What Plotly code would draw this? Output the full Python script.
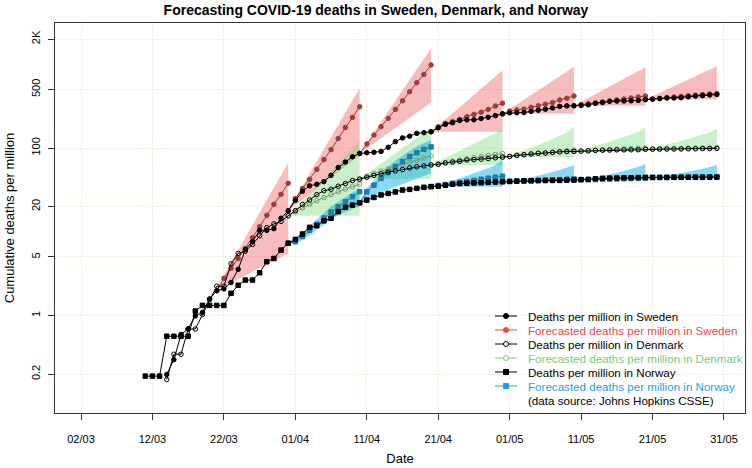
import pandas as pd
import plotly.graph_objects as go

# observed cumulative deaths per million (Johns Hopkins CSSE)
sweden_start = "2020-03-14"
sweden = [0.198, 0.297, 0.594, 0.693, 0.99, 1.09, 1.58, 1.98, 2.08, 2.48,
          3.56, 6.14, 7.62, 10.4, 10.4, 10.9, 14.5, 17.8,
          23.7, 30.5, 35.4, 36.9, 39.7, 47.2, 58.5, 68.0, 78.5, 86.1,
          87.8, 89.0, 91.0, 102.3, 119.1, 132.0, 138.6, 149.6, 152.5, 156.4,
          174.8, 191.8, 200.1, 213.1, 217.0, 217.2, 225.1, 233.2, 243.8, 256.0,
          262.7, 264.3, 265.2, 274.2, 282.6, 291.2, 301.0, 314.4, 318.8, 319.3,
          322.4, 328.0, 342.6, 349.4, 361.0, 363.8, 364.3, 366.1, 370.6, 379.3,
          383.3, 388.6, 395.2, 395.8, 398.9, 408.4, 417.8, 422.4, 430.7, 435.1]

denmark_start = "2020-03-14"
denmark = [0.172, 0.345, 0.345, 0.69, 0.69, 1.03, 1.55, 2.24, 2.24, 4.14,
           5.52, 5.86, 7.07, 8.97, 11.2, 12.4, 13.3, 15.5,
           17.9, 21.2, 24.0, 27.8, 30.9, 32.2, 35.0, 37.6, 40.9, 42.6,
           44.8, 47.1, 49.1, 51.6, 53.3, 55.3, 57.9, 59.7, 61.2, 62.8,
           63.8, 66.2, 67.9, 69.5, 72.1, 72.8, 73.6, 74.8, 76.4, 77.9,
           79.3, 81.9, 83.4, 85.0, 86.7, 87.2, 88.6, 90.0, 90.7, 91.2,
           91.9, 92.6, 93.6, 94.3, 94.5, 95.0, 95.0, 95.2, 95.5, 96.7,
           96.9, 97.1, 97.1, 97.2, 97.4, 97.9, 97.9, 98.4, 98.4, 99.0]

norway_start = "2020-03-11"
norway = [0.189, 0.189, 0.189,
          0.566, 0.566, 0.566, 0.566, 1.13, 1.32, 1.32, 1.32, 1.32, 1.84,
          2.3, 2.65, 2.65, 3.24, 4.39, 4.8, 6.05, 7.3,
          8.1, 9.4, 11.3, 11.8, 13.5, 14.5, 17.4, 19.6, 20.8, 22.2,
          23.9, 25.7, 27.5, 28.7, 29.9, 31.5, 32.1, 33.0, 34.0, 34.6,
          35.1, 35.9, 37.0, 37.7, 38.0, 38.3, 38.5, 38.9, 39.3, 39.6,
          40.0, 40.3, 40.5, 40.6, 40.8, 40.9, 41.0, 41.1, 41.3, 41.6,
          42.0, 42.2, 42.9, 43.5, 43.7, 43.8, 44.1, 44.2, 44.4, 44.5,
          44.5, 44.5, 44.5, 44.7, 44.7, 44.7, 44.7, 44.7, 44.8, 44.8]

# 10-day forecasts (central value, upper and lower edge of the band)
sweden_fc_starts = ["2020-03-21", "2020-03-31", "2020-04-10", "2020-04-20",
                    "2020-04-30", "2020-05-10", "2020-05-20"]
sweden_fc = [
    [1.98, 2.78, 3.66, 4.8, 6.3, 8.5, 11.5, 15.7, 21.3, 28.0, 37.9],
    [17.8, 25.0, 32.9, 42.2, 55.6, 72.8, 95.6, 130, 176, 232, 311],
    [86.1, 112, 143, 180, 226, 289, 366, 470, 603, 757, 980],
    [156.4, 179, 197, 207, 220, 237, 252, 268, 289, 318, 343],
    [256.0, 277, 285, 292, 306, 320, 334, 350, 375, 393, 418],
    [319.3, 330, 338, 345, 355, 365, 375, 385, 396, 407, 418],
    [379.3, 386, 393, 400, 407, 414, 421, 428, 435, 442, 449],
]
sweden_hi = [
    [1.98, 3.0, 4.3, 6.1, 8.6, 12.1, 17.0, 23.9, 33.6, 47.4, 66.8],
    [17.8, 25.5, 35.5, 49.5, 69, 96, 134, 188, 263, 369, 518],
    [86.1, 115, 154, 205, 274, 365, 488, 651, 869, 1160, 1550],
    [156.4, 185, 219, 259, 307, 364, 431, 511, 605, 717, 850],
    [256.0, 291, 332, 377, 429, 489, 556, 633, 720, 820, 935],
    [319.3, 355, 394, 439, 488, 542, 603, 671, 746, 829, 920],
    [379.3, 416, 456, 499, 547, 600, 657, 720, 790, 866, 950],
]
sweden_lo = [
    [1.98, 2.2, 2.45, 2.7, 3.0, 3.35, 3.7, 4.1, 4.5, 5.0, 5.5],
    [17.8, 20.7, 24.2, 28.2, 32.8, 38.2, 44.5, 51.8, 60.4, 70.3, 82],
    [86.1, 99, 114, 131, 151, 173, 199, 229, 264, 304, 350],
    [156.4, 156.4, 156.4, 156.4, 156.4, 156.4, 156.4, 156.4, 156.4, 156.4, 156.4],
    [256.0, 256.0, 256.0, 256.0, 256.0, 256.0, 256.0, 256.0, 256.0, 256.0, 256.0],
    [319.3, 319.3, 319.3, 319.3, 319.3, 319.3, 319.3, 319.3, 319.3, 319.3, 319.3],
    [379.3, 379.3, 379.3, 379.3, 379.3, 379.3, 379.3, 379.3, 379.3, 379.3, 379.3],
]

nordic_fc_starts = ["2020-03-31", "2020-04-10", "2020-04-20",
                    "2020-04-30", "2020-05-10", "2020-05-20"]
denmark_fc = [
    [15.5, 17.3, 19.3, 21.4, 23.5, 25.6, 27.8, 30.0, 32.3, 34.6, 37.0],
    [42.6, 46, 49.5, 53, 56.5, 60, 63.5, 67.5, 71.5, 76, 80.5],
    [62.8, 65, 67.2, 69.5, 71.8, 74.2, 76.6, 79, 81.3, 83.7, 86],
    [77.9, 79.5, 81, 82.6, 84.2, 85.8, 87.5, 89.2, 90.9, 92.7, 94.5],
    [91.2, 92.1, 93, 93.9, 94.8, 95.7, 96.6, 97.5, 98.4, 99.2, 100],
    [96.7, 97.1, 97.5, 98, 98.4, 98.8, 99.3, 99.7, 100.1, 100.6, 101],
]
denmark_hi = [
    [15.5, 19, 23.3, 28.6, 35, 43, 52.7, 64.6, 79.2, 97, 119],
    [42.6, 49, 56.5, 65, 75, 86.5, 99.6, 115, 132, 152, 176],
    [62.8, 69.3, 76.4, 84.3, 93, 102.6, 113, 125, 138, 152, 167],
    [77.9, 82.6, 88.0, 94.0, 101.0, 108.9, 117.9, 128.2, 140.1, 153.6, 180],
    [91.2, 95.5, 100.3, 105.7, 111.8, 118.7, 126.3, 134.9, 144.5, 155.3, 176],
    [96.7, 100.6, 105.0, 109.9, 115.4, 121.5, 128.2, 135.7, 144.1, 153.4, 171],
]
denmark_lo = [
    [15.5, 15.5, 15.5, 15.5, 15.5, 15.5, 15.5, 15.5, 15.5, 15.5, 15.5],
    [42.6, 42.6, 42.6, 42.6, 42.6, 42.6, 42.6, 42.6, 42.6, 42.6, 42.6],
    [62.8, 62.8, 62.8, 62.8, 62.8, 62.8, 62.8, 62.8, 62.8, 62.8, 62.8],
    [77.9, 77.9, 77.9, 77.9, 77.9, 77.9, 77.9, 77.9, 77.9, 77.9, 77.9],
    [91.2, 91.2, 91.2, 91.2, 91.2, 91.2, 91.2, 91.2, 91.2, 91.2, 91.2],
    [96.7, 96.7, 96.7, 96.7, 96.7, 96.7, 96.7, 96.7, 96.7, 96.7, 96.7],
]

norway_fc = [
    [7.3, 7.6, 8.8, 10.4, 12.3, 14.6, 17.2, 19.9, 22.8, 26.2, 30.1],
    [22.2, 30, 36, 43.4, 50.9, 60, 68.8, 79, 88, 96.5, 103],
    [34.6, 35.6, 36.7, 37.8, 38.9, 40, 41.2, 42.4, 43.6, 44.8, 46],
    [39.6, 39.9, 40.2, 40.5, 40.8, 41.1, 41.4, 41.7, 42.0, 42.4, 42.8],
    [41.6, 41.8, 42.0, 42.2, 42.4, 42.6, 42.8, 43.0, 43.2, 43.4, 43.6],
    [44.5, 44.6, 44.7, 44.8, 44.9, 45.0, 45.1, 45.2, 45.3, 45.4, 45.5],
]
norway_hi = [
    [7.3, 8.4, 9.9, 11.8, 14.2, 17.0, 20.0, 23.0, 26.2, 29.5, 32.5],
    [22.2, 33, 41, 50, 60, 71, 82, 93, 104, 115, 125],
    [34.6, 36.4, 38.5, 40.8, 43.4, 46.4, 49.7, 53.5, 57.8, 62.6, 72],
    [39.6, 40.4, 41.5, 42.9, 44.6, 46.5, 48.9, 51.6, 54.8, 58.5, 62.8],
    [41.6, 42.4, 43.5, 44.8, 46.5, 48.4, 50.6, 53.3, 56.3, 59.9, 64],
    [44.5, 45.2, 46.1, 47.2, 48.6, 50.2, 52.1, 54.2, 56.7, 59.6, 62.8],
]
norway_lo = [
    [7.3, 7.2, 7.9, 9.1, 10.6, 12.3, 14.0, 15.6, 17.3, 18.8, 20.0],
    [22.2, 24.5, 27, 29.5, 32, 34.5, 37, 40, 43, 46.5, 50],
    [34.6, 34.6, 34.6, 34.6, 34.6, 34.6, 34.6, 34.6, 34.6, 34.6, 34.6],
    [39.6, 39.6, 39.6, 39.6, 39.6, 39.6, 39.6, 39.6, 39.6, 39.6, 39.6],
    [41.6, 41.6, 41.6, 41.6, 41.6, 41.6, 41.6, 41.6, 41.6, 41.6, 41.6],
    [44.5, 44.5, 44.5, 44.5, 44.5, 44.5, 44.5, 44.5, 44.5, 44.5, 44.5],
]

tick_dates = ["2020-03-02", "2020-03-12", "2020-03-22", "2020-04-01", "2020-04-11",
              "2020-04-21", "2020-05-01", "2020-05-11", "2020-05-21", "2020-05-31"]
tick_text = ["02/03", "12/03", "22/03", "01/04", "11/04",
             "21/04", "01/05", "11/05", "21/05", "31/05"]
y_ticks = [0.2, 1, 5, 20, 100, 500, 2000]
y_text = ["0.2", "1", "5", "20", "100", "500", "2K"]

red, red_dark, red_band = "#e8474c", "#a03c3c", "rgba(236,96,96,0.42)"
green, green_dark, green_band = "#77cc77", "#789e78", "rgba(100,215,100,0.35)"
blue, blue_dark, blue_band = "#1ba3dc", "#1f7eaa", "rgba(0,168,228,0.45)"
grid = "#fbeee3"


def days(start, n):
    return pd.date_range(start, periods=n, freq="D")


fig = go.Figure()

# forecast bands
for starts, hi, lo, col in [(sweden_fc_starts, sweden_hi, sweden_lo, red_band),
                            (nordic_fc_starts, denmark_hi, denmark_lo, green_band),
                            (nordic_fc_starts, norway_hi, norway_lo, blue_band)]:
    for s, h, l in zip(starts, hi, lo):
        d = list(days(s, len(h)))
        fig.add_trace(go.Scatter(x=d + d[::-1], y=h + l[::-1], mode="lines",
                                 fill="toself", fillcolor=col, line=dict(width=0),
                                 hoverinfo="skip"))

# forecast lines
for starts, fc, col, sym in [(sweden_fc_starts, sweden_fc, red_dark, "circle"),
                             (nordic_fc_starts, denmark_fc, green_dark, "circle-open"),
                             (nordic_fc_starts, norway_fc, blue_dark, "square")]:
    for s, f in zip(starts, fc):
        fig.add_trace(go.Scatter(x=days(s, len(f)), y=f, mode="lines+markers",
                                 line=dict(color=col, width=1),
                                 marker=dict(symbol=sym, size=4.5, color=col,
                                             line=dict(color=col, width=1))))

# observed
for start, vals, sym in [(sweden_start, sweden, "circle"),
                         (denmark_start, denmark, "circle-open"),
                         (norway_start, norway, "square")]:
    fig.add_trace(go.Scatter(x=days(start, len(vals)), y=vals, mode="lines+markers",
                             line=dict(color="black", width=1),
                             marker=dict(symbol=sym, size=4.5, color="black",
                                         line=dict(color="black", width=1))))

# legend drawn by hand to get R-like spacing
L, R, T, B = 55, 7, 23, 55
W, H = 752 - L - R, 468 - T - B
px = lambda x: (x - L) / W
py = lambda y: (468 - B - y) / H
legend_rows = [("Deaths per million in Sweden", "black", "circle"),
               ("Forecasted deaths per million in Sweden", red, "circle"),
               ("Deaths per million in Denmark", "black", "open"),
               ("Forecasted deaths per million in Denmark", green, "open"),
               ("Deaths per million in Norway", "black", "square"),
               ("Forecasted deaths per million in Norway", blue, "square"),
               ("(data source: Johns Hopkins CSSE)", "black", None)]
shapes, annotations = [], []
for i, (name, col, sym) in enumerate(legend_rows):
    yy = py(316 + 14 * i)
    if sym:
        shapes.append(dict(type="line", xref="paper", yref="paper", x0=px(495), x1=px(517),
                           y0=yy, y1=yy, line=dict(color=col, width=1)))
        shapes.append(dict(type="rect" if sym == "square" else "circle",
                           xref="paper", yref="paper", xsizemode="pixel", ysizemode="pixel",
                           xanchor=px(506), yanchor=yy, x0=-2.5, x1=2.5, y0=-2.5, y1=2.5,
                           fillcolor="white" if sym == "open" else col,
                           line=dict(color=col, width=1)))
    annotations.append(dict(text=name, xref="paper", yref="paper", x=px(526), y=yy,
                            xanchor="left", yanchor="middle", showarrow=False,
                            font=dict(size=11.6, color=col)))

fig.update_layout(
    width=752, height=468,
    margin=dict(l=L, r=R, t=T, b=B),
    plot_bgcolor="white", paper_bgcolor="white",
    showlegend=False,
    font=dict(family="Liberation Sans, Arial, sans-serif", size=11, color="black"),
    title=dict(text="<b>Forecasting COVID-19 deaths in Sweden, Denmark, and Norway</b>",
               x=0.5, xanchor="center", y=1 - 10 / 468, yanchor="middle", yref="container",
               font=dict(size=14)),
    shapes=shapes, annotations=annotations,
)
fig.update_xaxes(type="date", range=["2020-02-27 08:38", "2020-06-02 22:34"],
                 tickvals=tick_dates, ticktext=tick_text, ticks="outside", ticklen=6,
                 tickcolor="#333", ticklabelstandoff=10,
                 showgrid=True, gridcolor=grid, gridwidth=1, zeroline=False,
                 showline=True, mirror=True, linecolor="#333", linewidth=1,
                 title=dict(text="Date", standoff=9), automargin=False)
fig.update_yaxes(type="log", range=[-1.164, 3.493],
                 tickvals=y_ticks, ticktext=y_text, tickangle=-90, ticks="outside", ticklen=6,
                 tickcolor="#333", ticklabelstandoff=4,
                 showgrid=True, gridcolor=grid, gridwidth=1, zeroline=False,
                 showline=True, mirror=True, linecolor="#333", linewidth=1,
                 title=dict(text="Cumulative deaths per million", standoff=12), automargin=False)

# drop the default 8px page margin so the figure sits at the window's corner
fig.write_html("out.html", config={"displayModeBar": False},
               post_script="document.body.style.margin = '0';")
